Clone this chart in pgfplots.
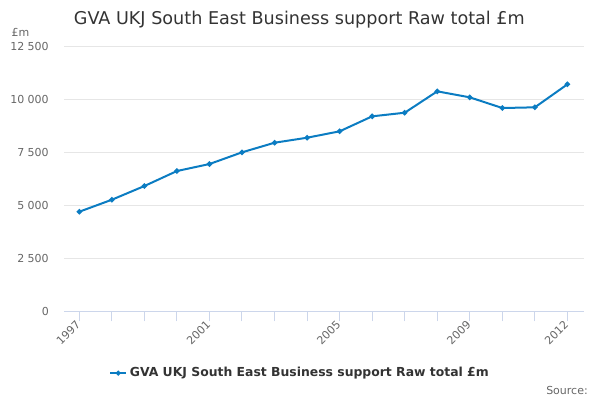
\documentclass[border=0pt]{standalone}
\usepackage{fontspec}
\setmainfont{DejaVu Sans}
\usepackage{pgfplots}
\pgfplotsset{compat=1.18}

\definecolor{linec}{RGB}{11,124,194}
\definecolor{gridc}{RGB}{230,230,230}
\definecolor{tickc}{RGB}{204,214,235}
\definecolor{labc}{RGB}{102,102,102}
\definecolor{titlec}{RGB}{51,51,51}

\pgfplotstableread{
year value
1997 4698
1998 5264
1999 5910
2000 6618
2001 6948
2002 7500
2003 7953
2004 8189
2005 8491
2006 9198
2007 9368
2008 10377
2009 10094
2010 9590
2011 9623
2012 10708
}\gva

\begin{document}
\begin{tikzpicture}[x=1pt,y=1pt]
  \useasboundingbox (0,0) rectangle (450,300);
  \begin{axis}[
      at={(48pt,66.5pt)}, anchor=south west,
      scale only axis,
      width=390pt, height=198.75pt,
      xmin=1996.53, xmax=2012.51,
      ymin=0, ymax=12500,
      scaled y ticks=false,
      axis x line*=bottom, axis y line*=left,
      x axis line style={-, draw=tickc, line width=0.75pt},
      y axis line style={draw=none},
      xtick={1997,2001,2005,2009,2012},
      xticklabels={1997,2001,2005,2009,2012},
      minor xtick={1998,1999,2000,2002,2003,2004,2006,2007,2008,2010,2011},
      xtick style={draw=tickc, line width=0.75pt},
      tick align=outside,
      major tick length=7.5pt,
      minor tick length=7.5pt,
      ytick={0,2500,5000,7500,10000,12500},
      yticklabels={0,2 500,5 000,7 500,10 000,12 500},
      ytick style={draw=none},
      ymajorgrids,
      grid style={draw=gridc, line width=0.75pt},
      tick label style={font=\fontsize{8.25}{10}\selectfont, text=labc},
      xticklabel style={rotate=45, anchor=east, inner sep=1pt},
      yticklabel style={inner sep=0pt, xshift=-3.75pt},
      legend style={at={(0.4545,-0.233)}, anchor=center, draw=none,
        font=\bfseries\fontsize{9.3}{11}\selectfont, text=titlec,
        /tikz/every even column/.append style={column sep=2pt}},
      legend image code/.code={
        \draw[#1, mark repeat=2, mark phase=2, mark size=1pt]
          plot coordinates {(0pt,0pt) (6pt,0pt) (12pt,0pt)};
      },
      clip=false,
    ]
    \addplot[color=linec, line width=1.5pt, mark=*, mark size=1.2pt,
      mark options={solid}] table[x=year, y=value] {\gva};
    \addlegendentry{GVA UKJ South East Business support Raw total £m}
  \end{axis}
  \node[anchor=base, text=titlec, font=\fontsize{13.2}{16}\selectfont]
    at (224.5, 281.8) {GVA UKJ South East Business support Raw total £m};
  \node[anchor=center, text=labc, font=\fontsize{8.25}{10}\selectfont]
    at (15.4, 276) {£m};
  \node[anchor=east, text=labc, font=\fontsize{8.25}{10}\selectfont, inner sep=0pt]
    at (441, 7.5) {Source:};
\end{tikzpicture}
\end{document}
